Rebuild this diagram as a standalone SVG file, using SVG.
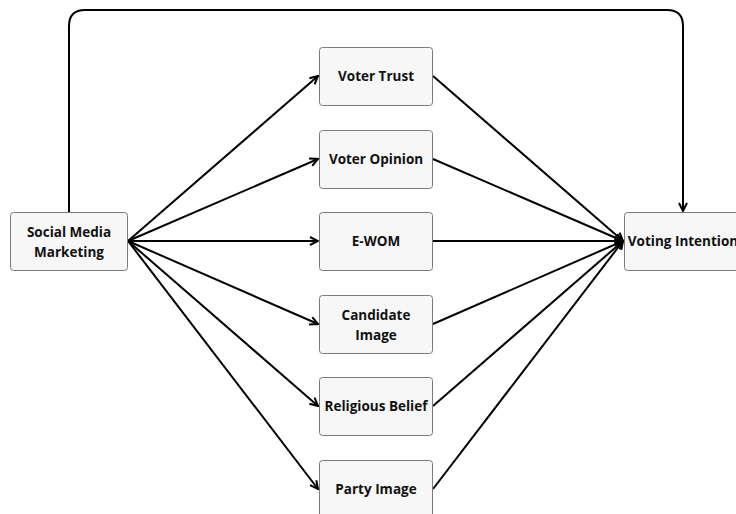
<svg xmlns="http://www.w3.org/2000/svg" width="736" height="514" viewBox="0 0 736 514">
  <defs>
    <marker id="arrow" viewBox="0 0 10 10" refX="9" refY="5" markerWidth="5" markerHeight="5" orient="auto" markerUnits="strokeWidth">
      <path d="M1,1 L9,5 L1,9" fill="none" stroke="#000" stroke-width="2"/>
    </marker>
  </defs>
  <style>
    .box { fill: #f7f7f7; stroke: #7a7a7a; stroke-width: 1; }
    .lbl { font-family: "Open Sans", "Liberation Sans", sans-serif; font-weight: bold; font-size: 13.5px; fill: #111; text-anchor: middle; }
    .edge { fill: none; stroke: #000; stroke-width: 2; marker-end: url(#arrow); }
  </style>
  <rect width="736" height="514" fill="#fff"/>

  <g id="connectors">
    <path class="edge" d="M69,212 V26 Q69,10 85,10 H667 Q683,10 683,26 V211"/>
    <line class="edge" x1="128" y1="241" x2="318" y2="76"/>
    <line class="edge" x1="128" y1="241" x2="318" y2="159"/>
    <line class="edge" x1="128" y1="241" x2="318" y2="241"/>
    <line class="edge" x1="128" y1="241" x2="318" y2="324"/>
    <line class="edge" x1="128" y1="241" x2="318" y2="406"/>
    <line class="edge" x1="128" y1="241" x2="318" y2="489"/>
    <line class="edge" x1="433" y1="76" x2="623" y2="241"/>
    <line class="edge" x1="433" y1="159" x2="623" y2="241"/>
    <line class="edge" x1="433" y1="241" x2="623" y2="241"/>
    <line class="edge" x1="433" y1="324" x2="623" y2="241"/>
    <line class="edge" x1="433" y1="406" x2="623" y2="241"/>
    <line class="edge" x1="433" y1="489" x2="623" y2="241"/>
  </g>

  <g id="social-media-marketing">
    <rect class="box" x="10.5" y="212.5" width="117" height="58" rx="3"/>
    <text class="lbl" x="69" y="237">Social Media</text>
    <text class="lbl" x="69" y="257">Marketing</text>
  </g>
  <g id="voter-trust">
    <rect class="box" x="319.5" y="47.5" width="113" height="58" rx="3"/>
    <text class="lbl" x="376" y="81">Voter Trust</text>
  </g>
  <g id="voter-opinion">
    <rect class="box" x="319.5" y="130.5" width="113" height="58" rx="3"/>
    <text class="lbl" x="376" y="164">Voter Opinion</text>
  </g>
  <g id="e-wom">
    <rect class="box" x="319.5" y="212.5" width="113" height="58" rx="3"/>
    <text class="lbl" x="376" y="246">E-WOM</text>
  </g>
  <g id="candidate-image">
    <rect class="box" x="319.5" y="295.5" width="113" height="58" rx="3"/>
    <text class="lbl" x="376" y="320">Candidate</text>
    <text class="lbl" x="376" y="340">Image</text>
  </g>
  <g id="religious-belief">
    <rect class="box" x="319.5" y="377.5" width="113" height="58" rx="3"/>
    <text class="lbl" x="376" y="411">Religious Belief</text>
  </g>
  <g id="party-image">
    <rect class="box" x="319.5" y="460.5" width="113" height="58" rx="3"/>
    <text class="lbl" x="376" y="494">Party Image</text>
  </g>
  <g id="voting-intention">
    <rect class="box" x="624.5" y="212.5" width="117" height="58" rx="3"/>
    <text class="lbl" x="683" y="246">Voting Intention</text>
  </g>
</svg>
